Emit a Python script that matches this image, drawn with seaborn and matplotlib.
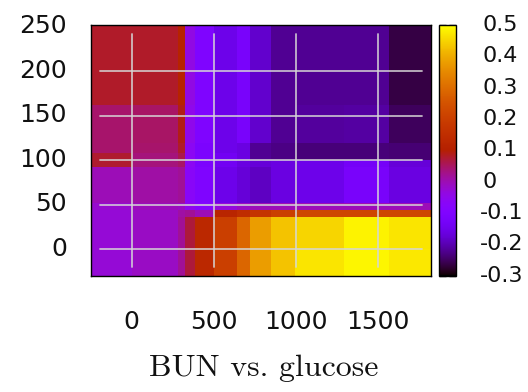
import numpy as np
import matplotlib
matplotlib.use("Agg")
import matplotlib.pyplot as plt
import matplotlib.transforms as mtransforms
import seaborn as sns

# ---- data ----
x_edges = [-250, 0, 280, 323, 384, 500, 640, 720, 850, 995, 1290, 1565, 1820]
y_edges = [-30, 0, 36, 44, 52, 92, 100, 108, 119, 162, 252]
# one list per row (bottom -> top), values per column (left -> right)
row_m30_0 = [-0.025, -0.01, 0.02, 0.07, 0.13, 0.20, 0.29, 0.38, 0.43, 0.47, 0.49, 0.475]
row_0_36 = [-0.025, -0.01, 0.02, 0.07, 0.13, 0.20, 0.29, 0.38, 0.43, 0.45, 0.485, 0.47]
row_36_44 = [-0.025, -0.01, 0.01, 0.02, 0.0, 0.12, 0.15, 0.17, 0.20, 0.22, 0.22, 0.22]
row_44_52 = [-0.02, -0.005, -0.01, -0.05, -0.08, -0.03, -0.01, 0.0, 0.0, 0.0, 0.0, 0.0]
row_52_92 = [0.0, 0.01, 0.02, -0.07, -0.10, -0.15, -0.17, -0.19, -0.16, -0.15, -0.12, -0.16]
row_92_100 = [0.075, 0.035, 0.05, -0.06, -0.11, -0.14, -0.16, -0.17, -0.16, -0.15, -0.13, -0.17]
row_100_108 = [0.075, 0.035, 0.06, -0.06, -0.11, -0.14, -0.16, -0.22, -0.23, -0.235, -0.235, -0.24]
row_108_119 = [0.045, 0.045, 0.08, -0.06, -0.11, -0.15, -0.16, -0.22, -0.23, -0.235, -0.235, -0.24]
row_119_162 = [0.045, 0.05, 0.09, -0.05, -0.10, -0.15, -0.12, -0.18, -0.22, -0.215, -0.21, -0.25]
row_162_252 = [0.08, 0.08, 0.11, -0.04, -0.10, -0.15, -0.12, -0.18, -0.22, -0.22, -0.22, -0.265]

x_ticks = [0, 500, 1000, 1500]
y_ticks = [0, 50, 100, 150, 200, 250]
cb_ticks = [0.5, 0.4, 0.3, 0.2, 0.1, 0.0, -0.1, -0.2, -0.3]
cb_labels = ["0.5", "0.4", "0.3", "0.2", "0.1", "0", "-0.1", "-0.2", "-0.3"]
x_label = "BUN vs. glucose"

values = np.array([row_m30_0, row_0_36, row_36_44, row_44_52, row_52_92,
                   row_92_100, row_100_108, row_108_119, row_119_162, row_162_252])

sns.set_theme(style="white")
plt.rcParams['font.family'] = ['DejaVu Sans']
plt.rcParams['axes.edgecolor'] = 'black'

W, H = 528, 392
fig = plt.figure(figsize=(W / 100, H / 100), dpi=100)
L, R, T, B = 90.7, 430.7, 25.0, 275.7
ax = fig.add_axes([L / W, (H - B) / H, (R - L) / W, (B - T) / H])
cax = fig.add_axes([439 / W, (H - B) / H, 17 / W, (B - T) / H])

mesh = ax.pcolormesh(x_edges, y_edges, values, cmap="gnuplot", vmin=-0.3, vmax=0.5,
                     shading="flat", rasterized=True)
ax.set_xlim(-250, 1820)
ax.set_ylim(-30, 252)

# grid between inward tick marks
gcol = (0.84, 0.84, 0.84)
for xv in x_ticks:
    ax.axvline(xv, ymin=9 / (B - T), ymax=1 - 9 / (B - T), color=gcol, lw=1.3, alpha=0.85, zorder=2)
for yv in y_ticks[:-1]:
    ax.axhline(yv, xmin=9 / (R - L), xmax=1 - 9 / (R - L), color=gcol, lw=1.3, alpha=0.85, zorder=2)

ax.set_xticks(x_ticks)
ax.set_yticks(y_ticks)
ax.set_xticklabels([str(v) for v in x_ticks])
ax.set_yticklabels([str(v) for v in y_ticks])
ax.tick_params(axis='both', direction='in', length=9, width=1.2, color='black',
               top=True, right=True, bottom=True, left=True, labelsize=18,
               labelcolor='#111111')
ax.tick_params(axis='x', pad=25)
ax.tick_params(axis='y', pad=17)
for lab in ax.get_yticklabels():
    lab.set_transform(lab.get_transform() + mtransforms.ScaledTranslation(0, 3 / 100, fig.dpi_scale_trans))
for sp in ax.spines.values():
    sp.set_color('black')
    sp.set_linewidth(1.0)
    sp.set_visible(True)

ax.set_xlabel(x_label, fontfamily='cmr10', fontsize=23, color='#111111')
ax.xaxis.label.set_va('baseline')
ax.xaxis.set_label_coords((264 - L) / (R - L), -(376 - B) / (B - T))

# colorbar
cb = fig.colorbar(mesh, cax=cax)
cb.outline.set_edgecolor('black')
cb.outline.set_linewidth(1.0)
cax.set_yticks(cb_ticks)
cax.set_yticklabels([])
cax.tick_params(axis='y', direction='in', length=5, width=1.0, color='#222222',
                left=True, right=True, labelleft=False, labelright=False)
trans = mtransforms.blended_transform_factory(fig.transFigure, cax.transData)
for t, s in zip(cb_ticks, cb_labels):
    if s.startswith('-'):
        cax.text(523 / W, t, s, transform=trans, ha='right', va='center', fontsize=16,
                 color='#111111', clip_on=False)
    else:
        cax.text(483 / W, t, s, transform=trans, ha='left', va='center', fontsize=16,
                 color='#111111', clip_on=False)

fig.savefig("out.png", dpi=100)
